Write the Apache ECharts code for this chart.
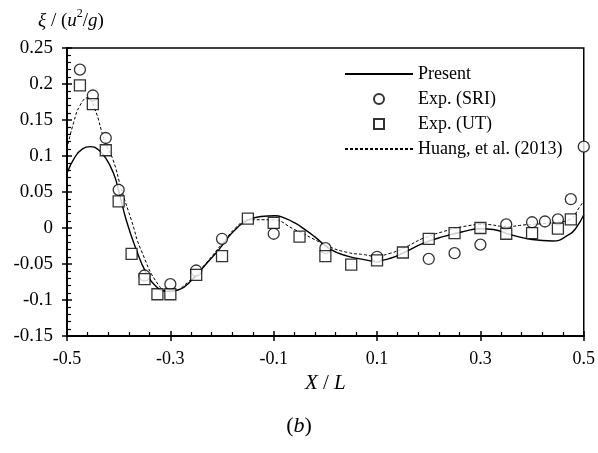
<!DOCTYPE html>
<html>
<head>
<meta charset="utf-8">
<script src="https://cdn.jsdelivr.net/npm/echarts@6/dist/echarts.min.js"></script>
<style>
  html, body { margin: 0; padding: 0; background: #fff; }
  #chart { width: 598px; height: 453px; }
</style>
</head>
<body>
<div id="chart"></div>
<script>
// 实验数据 (X/L, ξ/(u²/g))
const sriData = [
  [-0.475, 0.220], [-0.45, 0.184], [-0.425, 0.125], [-0.4, 0.053], [-0.35, -0.066],
  [-0.3, -0.078], [-0.25, -0.059], [-0.2, -0.015], [-0.1, -0.008], [0, -0.028],
  [0.1, -0.040], [0.2, -0.043], [0.25, -0.035], [0.3, -0.023], [0.35, 0.005],
  [0.4, 0.008], [0.425, 0.009], [0.45, 0.012], [0.475, 0.040], [0.5, 0.113]
];
const utData = [
  [-0.475, 0.198], [-0.45, 0.172], [-0.425, 0.108], [-0.4, 0.037], [-0.375, -0.036],
  [-0.35, -0.071], [-0.325, -0.092], [-0.3, -0.092], [-0.25, -0.065], [-0.2, -0.039],
  [-0.15, 0.013], [-0.1, 0.007], [-0.05, -0.012], [0, -0.039], [0.05, -0.051],
  [0.1, -0.045], [0.15, -0.034], [0.2, -0.015], [0.25, -0.007], [0.3, 0.000],
  [0.35, -0.008], [0.4, -0.007], [0.45, -0.001], [0.475, 0.012]
];
// 计算结果曲线
const presentData = [
  [-0.5, 0.076], [-0.485, 0.098], [-0.47, 0.110], [-0.455, 0.113], [-0.44, 0.109],
  [-0.425, 0.097], [-0.41, 0.076], [-0.4, 0.052], [-0.385, 0.010], [-0.366, -0.030],
  [-0.347, -0.062], [-0.328, -0.081], [-0.306, -0.088], [-0.283, -0.0855], [-0.258, -0.072],
  [-0.232, -0.051], [-0.206, -0.030], [-0.187, -0.012], [-0.171, 0.000], [-0.155, 0.009],
  [-0.125, 0.016], [-0.097, 0.017], [-0.08, 0.014], [-0.059, 0.007], [-0.04, -0.002],
  [-0.021, -0.012], [0.011, -0.030], [0.043, -0.039], [0.075, -0.044], [0.094, -0.046],
  [0.126, -0.042], [0.158, -0.032], [0.19, -0.021], [0.228, -0.012], [0.267, -0.005],
  [0.3, -0.001], [0.325, -0.002], [0.357, -0.009], [0.4, -0.016], [0.44, -0.018],
  [0.472, -0.009], [0.485, 0.000], [0.5, 0.018]
];
const huangData = [
  [-0.5, 0.110], [-0.487, 0.147], [-0.475, 0.170], [-0.46, 0.181], [-0.447, 0.167],
  [-0.427, 0.121], [-0.411, 0.095], [-0.394, 0.052], [-0.375, 0.010], [-0.357, -0.030],
  [-0.321, -0.081], [-0.299, -0.088], [-0.264, -0.074], [-0.23, -0.048], [-0.2, -0.022],
  [-0.171, 0.002], [-0.149, 0.0115], [-0.104, 0.0115], [-0.059, -0.0024], [-0.014, -0.0186],
  [0.005, -0.0255], [0.043, -0.034], [0.075, -0.037], [0.094, -0.039], [0.126, -0.035],
  [0.158, -0.0255], [0.19, -0.014], [0.228, -0.005], [0.267, 0.002], [0.309, 0.005],
  [0.35, 0.002], [0.389, 0.0046], [0.434, 0.007], [0.472, 0.0115], [0.491, 0.028],
  [0.5, 0.038]
];
const legendNames = ['Present', 'Exp. (SRI)', 'Exp. (UT)', 'Huang, et al. (2013)'];

const chart = echarts.init(document.getElementById('chart'));
const font = 'Liberation Serif';

const fmt = v => String(parseFloat(v.toFixed(2)));
const noSymbol = { color: 'rgba(0,0,0,0)', borderWidth: 0, opacity: 0 };

const option = {
  animation: false,
  backgroundColor: '#fff',
  textStyle: { fontFamily: font, color: '#000' },
  title: {
    text: '{p|(}{i|b}{p|)}',
    left: 'center',
    top: 410,
    textStyle: {
      fontWeight: 'normal',
      rich: {
        p: { fontFamily: font, fontSize: 22, fontWeight: 'normal', color: '#000' },
        i: { fontFamily: font, fontSize: 22, fontWeight: 'normal', fontStyle: 'italic', color: '#000' }
      }
    }
  },
  grid: {
    left: 67, right: 10, top: 48, bottom: 117,
    show: true, borderColor: '#000', borderWidth: 1.5,
    containLabel: false
  },
  legend: {
    data: [
      { name: legendNames[0], itemStyle: noSymbol },
      { name: legendNames[1] },
      { name: legendNames[2], icon: 'path://M0,0H10V10H0Z' },
      { name: legendNames[3], itemStyle: noSymbol }
    ],
    orient: 'vertical',
    left: 339,
    top: 60,
    itemWidth: 68,
    itemHeight: 10,
    itemGap: 7,
    textStyle: { fontFamily: font, fontSize: 18, color: '#000', lineHeight: 18 }
  },
  xAxis: [
    {
      type: 'value', min: -0.5, max: 0.5, interval: 0.2,
      name: '{i|X} / {i|L}',
      nameLocation: 'middle', nameGap: 37,
      nameTextStyle: {
        rich: {
          i: { fontFamily: font, fontSize: 21, fontStyle: 'italic', color: '#000' }
        },
        fontFamily: font, fontSize: 21, color: '#000'
      },
      axisLine: { onZero: false, lineStyle: { color: '#000', width: 2 } },
      axisTick: { inside: true, length: 5, lineStyle: { color: '#000', width: 1.5 } },
      minorTick: { show: true, splitNumber: 5, length: 4, lineStyle: { color: '#000', width: 1.2 } },
      splitLine: { show: false },
      axisLabel: { fontFamily: font, fontSize: 18, color: '#000', margin: 14, formatter: fmt }
    },
    {
      type: 'value', min: -0.5, max: 0.5, interval: 0.2, position: 'bottom',
      axisLine: { show: false, onZero: false },
      axisTick: { inside: false, length: 5, lineStyle: { color: '#000', width: 1.5 } },
      splitLine: { show: false },
      axisLabel: { show: false }
    }
  ],
  yAxis: [
    {
      type: 'value', min: -0.15, max: 0.25, interval: 0.05,
      name: '{i|ξ} / ({i|u}{s|2}/{i|g})',
      nameLocation: 'end', nameGap: 14,
      nameTextStyle: {
        align: 'left',
        padding: [0, 0, 0, -29],
        fontFamily: font, fontSize: 19, color: '#000',
        rich: {
          i: { fontFamily: font, fontSize: 19, fontStyle: 'italic', color: '#000' },
          s: { fontFamily: font, fontSize: 12, color: '#000', verticalAlign: 'top', lineHeight: 26 }
        }
      },
      axisLine: { onZero: false, lineStyle: { color: '#000', width: 2 } },
      axisTick: { inside: true, length: 5, lineStyle: { color: '#000', width: 1.5 } },
      minorTick: { show: true, splitNumber: 5, length: 4, lineStyle: { color: '#000', width: 1.2 } },
      splitLine: { show: false },
      axisLabel: { fontFamily: font, fontSize: 19, color: '#000', margin: 14, formatter: fmt }
    },
    {
      type: 'value', min: -0.15, max: 0.25, interval: 0.05, position: 'left',
      axisLine: { show: false, onZero: false },
      axisTick: { inside: false, length: 5, lineStyle: { color: '#000', width: 1.5 } },
      splitLine: { show: false },
      axisLabel: { show: false }
    }
  ],
  series: [
    {
      name: 'Present', type: 'line', data: presentData, smooth: true,
      symbol: 'none', z: 2,
      itemStyle: { color: '#000' },
      lineStyle: { color: '#000', width: 1.4 }
    },
    {
      name: 'Exp. (SRI)', type: 'scatter', data: sriData,
      symbol: 'circle', symbolSize: 11, z: 3,
      itemStyle: { color: '#fff', borderColor: '#000', borderWidth: 1.3 }
    },
    {
      name: 'Exp. (UT)', type: 'scatter', data: utData,
      symbol: 'rect', symbolSize: 11, z: 4,
      itemStyle: { color: '#fff', borderColor: '#000', borderWidth: 1.3 }
    },
    {
      name: 'Huang, et al. (2013)', type: 'line', data: huangData, smooth: true,
      symbol: 'none', z: 1,
      itemStyle: { color: '#000' },
      lineStyle: { color: '#000', width: 1, type: [3, 2] }
    }
  ]
};

chart.setOption(option);
window.addEventListener('resize', () => chart.resize());
</script>
</body>
</html>
